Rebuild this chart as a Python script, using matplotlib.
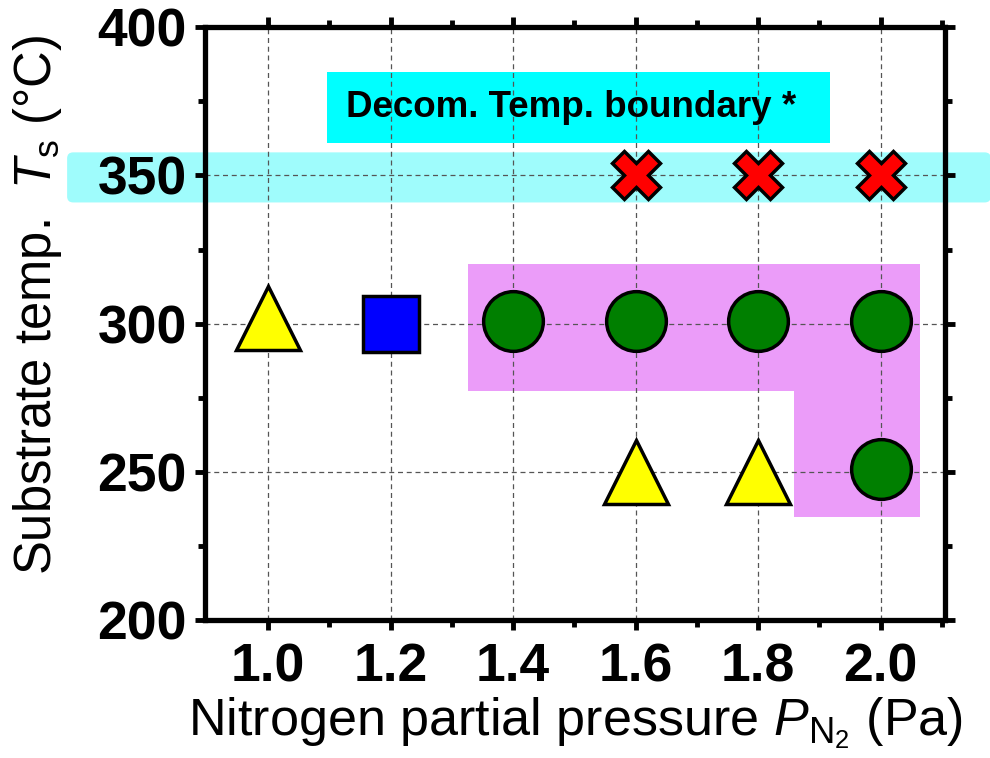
import matplotlib
matplotlib.use("Agg")
import matplotlib.pyplot as plt
from matplotlib.patches import Polygon, Rectangle, FancyBboxPatch

plt.rcParams['font.family'] = ['Liberation Sans', 'DejaVu Sans']
plt.rcParams['mathtext.fontset'] = 'custom'
plt.rcParams['mathtext.rm'] = 'Liberation Sans'
plt.rcParams['mathtext.it'] = 'Liberation Sans:italic'

# data: nitrogen partial pressure (Pa) vs substrate temperature (C)
circle_x = [1.4, 1.6, 1.8, 2.0, 2.0]
circle_y = [301, 301, 301, 301, 251]
triangle_x = [1.0, 1.6, 1.8]
triangle_y = [302, 250, 250]
square_x = [1.2]
square_y = [300]
cross_x = [1.6, 1.8, 2.0]
cross_y = [350, 350, 350]

# shaded regions
region_x = [1.327, 2.064, 2.064, 1.858, 1.858, 1.327]
region_y = [320, 320, 234.8, 234.8, 277.4, 277.4]
band_x = [0.672, 2.18]
band_y = [340.9, 357.8]
label_box_x = [1.096, 1.918]
label_box_y = [360.8, 384.8]
label_text = "Decom. Temp. boundary *"

xticks = [1.0, 1.2, 1.4, 1.6, 1.8, 2.0]
yticks = [200, 250, 300, 350, 400]

fig = plt.figure(figsize=(9.9, 7.58), dpi=100)
ax = fig.add_axes([0.207, 0.182, 0.748, 0.782])
ax.set_xlim(0.897, 2.106)
ax.set_ylim(200, 400)

# decomposition band (extends past the axes)
rx = 0.01
ry = 2.0
band = FancyBboxPatch((band_x[0], band_y[0]), band_x[1] - band_x[0], band_y[1] - band_y[0],
                      boxstyle=f"round,pad=0,rounding_size={rx}", mutation_aspect=ry / rx,
                      facecolor="#9ffcfc", edgecolor="none", clip_on=False, zorder=0.5)
ax.add_patch(band)
ax.add_patch(Rectangle((label_box_x[0], label_box_y[0]), label_box_x[1] - label_box_x[0],
                       label_box_y[1] - label_box_y[0], facecolor="#00ffff", edgecolor="none", zorder=0.5))
ax.text(sum(label_box_x) / 2 - 0.012, sum(label_box_y) / 2, label_text, ha="center", va="center",
        fontsize=26.5, fontweight="bold", zorder=4)
ax.add_patch(Polygon(list(zip(region_x, region_y)), closed=True, facecolor="#eb9cf9",
                     edgecolor="none", zorder=0.5))

ax.grid(True, which="major", linestyle=(0, (4, 3)), color="#555555", linewidth=0.9)

ax.plot(circle_x, circle_y, "o", ms=43, mfc="#007f00", mec="black", mew=2.5, zorder=3)
ax.plot(triangle_x, triangle_y, "^", ms=46, mfc="#ffff00", mec="black", mew=2.5, zorder=3)
ax.plot(square_x, square_y, "s", ms=40, mfc="#0000ff", mec="black", mew=2.5, zorder=3)
ax.plot(cross_x, cross_y, "X", ms=34, mfc="#ff0000", mec="black", mew=2.5, zorder=3)

ax.set_xticks(xticks)
ax.set_xticklabels([f"{v:.1f}" for v in xticks])
ax.set_yticks(yticks)
ax.set_xticks([1.1, 1.3, 1.5, 1.7, 1.9, 2.1], minor=True)
ax.set_yticks([225, 275, 325, 375], minor=True)
for lab in ax.get_xticklabels() + ax.get_yticklabels():
    lab.set_fontweight("bold")
    lab.set_fontsize(38.5)
ax.tick_params(which="both", top=True, right=True, width=3.5)
ax.tick_params(which="both", direction="out", bottom=True, left=True)
ax.xaxis.set_tick_params(which="major", length=7, pad=9)
ax.yaxis.set_tick_params(which="major", length=7, pad=6)
ax.xaxis.set_tick_params(which="minor", length=5)
ax.yaxis.set_tick_params(which="minor", length=5)
for s in ax.spines.values():
    s.set_linewidth(3.8)

ax.set_xlabel(r"Nitrogen partial pressure $\it{P}_{\rm N_2}$ (Pa)", fontsize=37.5, labelpad=2)
ax.set_ylabel(r"Substrate temp.  $\it{T}_{\rm s}$ (°C)", fontsize=36.5)
ax.yaxis.set_label_coords(-0.19, 0.531)

fig.savefig("out.png", dpi=100)
